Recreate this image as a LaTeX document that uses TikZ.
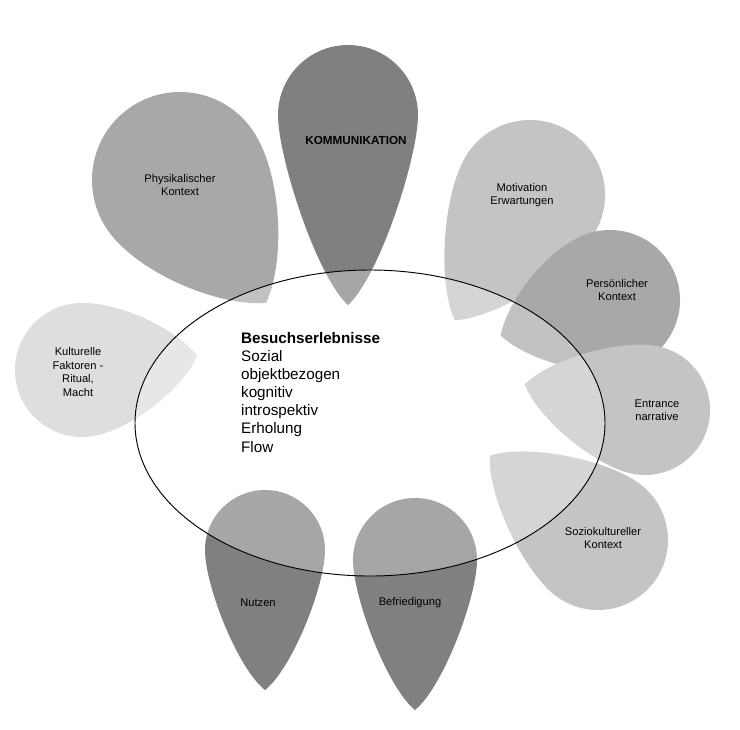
\documentclass[tikz,border=0pt]{standalone}
\usepackage{fontspec}
\setmainfont{Liberation Sans}
\begin{document}
\begin{tikzpicture}[x=0.03cm,y=-0.03cm,
  lab/.style={font=\fontsize{9.5}{11.5}\selectfont,align=center,text=black}]
\useasboundingbox (0,0) rectangle (740,729);
\newcommand{\petal}[6]{% cx cy r theta L color
  \begin{scope}[shift={(#1,#2)},rotate=#4]
    \fill[#6] (0,#5) .. controls (0.45*#3,0.85*#5) and (#3,0.6*#3) .. (#3,0)
      arc[start angle=0,end angle=-180,radius=#3]
      .. controls (-#3,0.6*#3) and (-0.45*#3,0.85*#5) .. (0,#5) -- cycle;
  \end{scope}}
\definecolor{dk}{gray}{0.5}
\definecolor{md}{gray}{0.66}
\definecolor{lt}{gray}{0.77}
\definecolor{vl}{gray}{0.87}
\petal{348}{115}{70}{0}{190}{dk}
\petal{180}{180}{88}{35}{150}{md}
\petal{530}{195}{75}{-31}{146}{lt}
\petal{610}{300}{70}{-72}{115}{md}
\petal{645}{410}{65}{-102}{123}{lt}
\petal{598}{540}{70}{-128}{137}{lt}
\petal{415}{560}{62}{0}{150}{dk}
\petal{265}{550}{60}{0}{140}{dk}
\petal{82}{370}{67}{97}{116}{vl}
\draw[thick,fill=white,fill opacity=0.3] (370,423) ellipse[x radius=235,y radius=153];
\node[lab,font=\fontsize{10}{12}\selectfont\bfseries] (k) at (356,140) {KOMMUNIKATION};
\node[lab] (p) at (180,185) {Physikalischer\\Kontext};
\node[lab] (m) at (522,195) {Motivation\\Erwartungen};
\node[lab] (pk) at (617,290) {Persönlicher\\Kontext};
\node[lab] (e) at (657,410) {Entrance\\narrative};
\node[lab] (s) at (603,538) {Soziokultureller\\Kontext};
\node[lab] (b) at (410,603) {Befriedigung};
\node[lab] (n) at (258,603) {Nutzen};
\node[lab] (kf) at (78,372) {Kulturelle\\Faktoren -\\Ritual,\\Macht};
\node[font=\fontsize{13}{15.5}\selectfont,align=left,anchor=north west] (c) at (237,328)
  {\textbf{Besuchserlebnisse}\\Sozial\\objektbezogen\\kognitiv\\introspektiv\\Erholung\\Flow};
\end{tikzpicture}
\end{document}
